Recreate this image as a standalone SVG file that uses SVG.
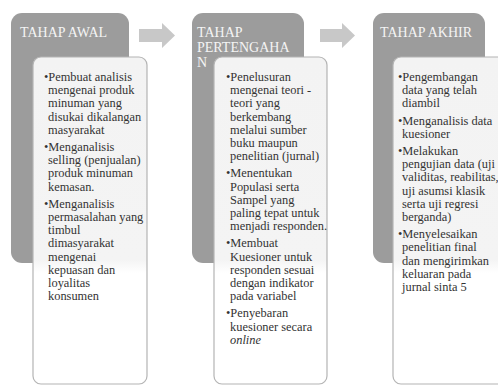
<svg xmlns="http://www.w3.org/2000/svg" width="498" height="387" viewBox="0 0 498 387">
<defs>
<linearGradient id="boxfill" x1="0" y1="0" x2="0" y2="1">
<stop offset="0" stop-color="#f3f3f3"/>
<stop offset="0.62" stop-color="#f4f4f4"/>
<stop offset="0.66" stop-color="#ffffff"/>
<stop offset="1" stop-color="#ffffff"/>
</linearGradient>
</defs>
<style>
.panel{fill:#9c9c9c;}
.box{fill:url(#boxfill);stroke:#b4b4b4;stroke-width:1.2;}
.head{font-family:"Liberation Serif","Times New Roman",serif;font-size:14px;fill:#f4f4f4;}
.body{font-family:"Liberation Serif","Times New Roman",serif;font-size:12.4px;fill:#333333;}
.arrow{fill:#c8c8c8;}
</style>
<rect width="498" height="387" fill="#ffffff"/>
<g id="connectors">
<polygon class="arrow" points="139,29 162,29 162,23 175,35.5 162,48 162,42 139,42"/>
<polygon class="arrow" points="320,29 342,29 342,23 355,35.5 342,48 342,42 320,42"/>
</g>
<g id="tahap-awal">
<rect class="panel" x="11" y="13" width="118" height="250" rx="11"/>
<text class="head" x="20" y="37">TAHAP AWAL</text>
<rect class="box" x="33" y="57" width="114" height="327" rx="8"/>
<text class="body">
<tspan x="44" y="81">•Pembuat analisis</tspan>
<tspan x="48" y="94.2">mengenai produk</tspan>
<tspan x="48" y="107.4">minuman yang</tspan>
<tspan x="48" y="120.6">disukai dikalangan</tspan>
<tspan x="48" y="133.8">masyarakat</tspan>
<tspan x="44" y="151">•Menganalisis</tspan>
<tspan x="48" y="164.2">selling (penjualan)</tspan>
<tspan x="48" y="177.4">produk minuman</tspan>
<tspan x="48" y="190.6">kemasan.</tspan>
<tspan x="44" y="207.8">•Menganalisis</tspan>
<tspan x="48" y="221">permasalahan yang</tspan>
<tspan x="48" y="234.2">timbul</tspan>
<tspan x="48" y="247.4">dimasyarakat</tspan>
<tspan x="48" y="260.6">mengenai</tspan>
<tspan x="48" y="273.8">kepuasan dan</tspan>
<tspan x="48" y="287">loyalitas</tspan>
<tspan x="48" y="300.2">konsumen</tspan>
</text>
</g>
<g id="tahap-pertengahan">
<rect class="panel" x="192" y="13" width="112" height="250" rx="11"/>
<text class="head">
<tspan x="197" y="37">TAHAP</tspan>
<tspan x="197" y="52">PERTENGAHA</tspan>
<tspan x="197" y="67">N</tspan>
</text>
<rect class="box" x="214" y="57" width="113" height="327" rx="8"/>
<text class="body">
<tspan x="226" y="81">•Penelusuran</tspan>
<tspan x="230" y="94.2">mengenai teori -</tspan>
<tspan x="230" y="107.4">teori yang</tspan>
<tspan x="230" y="120.6">berkembang</tspan>
<tspan x="230" y="133.8">melalui sumber</tspan>
<tspan x="230" y="147">buku maupun</tspan>
<tspan x="230" y="160.2">penelitian (jurnal)</tspan>
<tspan x="226" y="177.4">•Menentukan</tspan>
<tspan x="230" y="190.6">Populasi serta</tspan>
<tspan x="230" y="203.8">Sampel yang</tspan>
<tspan x="230" y="217">paling tepat untuk</tspan>
<tspan x="230" y="230.2">menjadi responden.</tspan>
<tspan x="226" y="247.4">•Membuat</tspan>
<tspan x="230" y="260.6">Kuesioner untuk</tspan>
<tspan x="230" y="273.8">responden sesuai</tspan>
<tspan x="230" y="287">dengan indikator</tspan>
<tspan x="230" y="300.2">pada variabel</tspan>
<tspan x="226" y="317.4">•Penyebaran</tspan>
<tspan x="230" y="330.6">kuesioner secara</tspan>
<tspan x="230" y="343.8" font-style="italic">online</tspan>
</text>
</g>
<g id="tahap-akhir">
<rect class="panel" x="373" y="13" width="112" height="250" rx="11"/>
<text class="head" x="380" y="37">TAHAP AKHIR</text>
<rect class="box" x="393" y="57" width="114" height="327" rx="8"/>
<text class="body">
<tspan x="398" y="81">•Pengembangan</tspan>
<tspan x="402" y="94.2">data yang telah</tspan>
<tspan x="402" y="107.4">diambil</tspan>
<tspan x="398" y="124.6">•Menganalisis data</tspan>
<tspan x="402" y="137.8">kuesioner</tspan>
<tspan x="398" y="155">•Melakukan</tspan>
<tspan x="402" y="168.2">pengujian data (uji</tspan>
<tspan x="402" y="181.4">validitas, reabilitas,</tspan>
<tspan x="402" y="194.6">uji asumsi klasik</tspan>
<tspan x="402" y="207.8">serta uji regresi</tspan>
<tspan x="402" y="221">berganda)</tspan>
<tspan x="398" y="238.2">•Menyelesaikan</tspan>
<tspan x="402" y="251.4">penelitian final</tspan>
<tspan x="402" y="264.6">dan mengirimkan</tspan>
<tspan x="402" y="277.8">keluaran pada</tspan>
<tspan x="402" y="291">jurnal sinta 5</tspan>
</text>
</g>
</svg>
